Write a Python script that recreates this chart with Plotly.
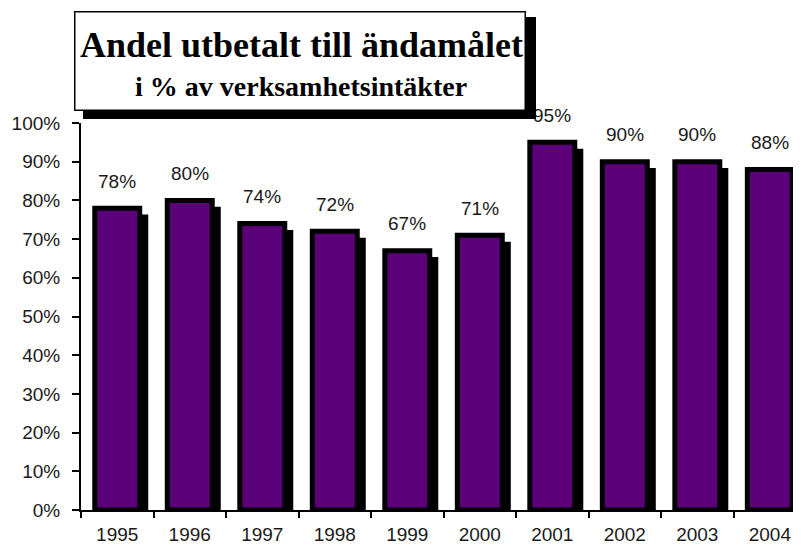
import plotly.graph_objects as go

years = ["1995", "1996", "1997", "1998", "1999", "2000", "2001", "2002", "2003", "2004"]
shares = [78, 80, 74, 72, 67, 71, 95, 90, 90, 88]
labels = [f"{v}%" for v in shares]

title_main = "Andel utbetalt till ändamålet"
title_sub = "i % av verksamhetsintäkter"

PURPLE = "#5C0079"
BAR_W = 0.62
SHADOW_DX = 0.083
SHADOW_DY = 2.3

fig = go.Figure()

# shadow bars
fig.add_trace(go.Bar(
    x=years, y=[v - SHADOW_DY for v in shares],
    width=BAR_W, offset=-BAR_W / 2 + SHADOW_DX,
    marker=dict(color="black", line=dict(color="black", width=5)),
    hoverinfo="skip", showlegend=False,
))
# front bars
fig.add_trace(go.Bar(
    x=years, y=shares,
    width=BAR_W, offset=-BAR_W / 2,
    marker=dict(color=PURPLE, line=dict(color="black", width=5)),
    showlegend=False,
))

# page has an 8px body margin: figure starts at (8, 8) in the window
OFF = 8
W, H = 801 - OFF, 548 - OFF
L, T, B = 81 - OFF, 123 - OFF, 38
pw, ph = W - L, H - T - B

def px_x(p):
    return (p - OFF - L) / pw

def px_y(p):
    return (H - B - (p - OFF)) / ph

LABEL_FONT = dict(family="Liberation Sans, Arial", size=19, color="#1a1a1a")

annotations = []
# value labels (drawn first so the title box covers them); x = category index
for i, (v, lab) in enumerate(zip(shares, labels)):
    annotations.append(dict(
        x=i, y=v, xref="x", yref="y", text=lab, showarrow=False,
        xanchor="center", yanchor="middle", yshift=27, font=LABEL_FONT,
    ))

# title box shadow
annotations.append(dict(
    text=" ", xref="paper", yref="paper", x=px_x(83), y=px_y(17),
    xanchor="left", yanchor="top", showarrow=False,
    width=453, height=102, bgcolor="black", borderpad=0, borderwidth=0,
))
# title box
annotations.append(dict(
    text=" ", xref="paper", yref="paper", x=px_x(74), y=px_y(11),
    xanchor="left", yanchor="top", showarrow=False,
    width=449, height=96.5, bgcolor="white", bordercolor="black",
    borderwidth=1.5, borderpad=0,
))
# title text
annotations.append(dict(
    text=f"<b>{title_main}</b>", xref="paper", yref="paper",
    x=px_x(301), y=px_y(45), xanchor="center", yanchor="middle",
    showarrow=False,
    font=dict(family="Liberation Serif, Times New Roman", size=36, color="black"),
))
annotations.append(dict(
    text=f"<b>{title_sub}</b>", xref="paper", yref="paper",
    x=px_x(301), y=px_y(86), xanchor="center", yanchor="middle",
    showarrow=False,
    font=dict(family="Liberation Serif, Times New Roman", size=28, color="black"),
))

fig.update_layout(
    width=W, height=H,
    margin=dict(l=L, r=0, t=T, b=B),
    paper_bgcolor="white", plot_bgcolor="white",
    barmode="overlay",
    annotations=annotations,
    font=dict(family="Liberation Sans, Arial", size=19, color="#1a1a1a"),
)
fig.update_xaxes(
    type="category", range=[-0.5, 9.43],
    showline=True, linecolor="black", linewidth=1.5,
    ticks="outside", tickson="boundaries", ticklen=6, tickcolor="black", tickwidth=1.5,
    showgrid=False, zeroline=False, ticklabelstandoff=6,
)
fig.update_yaxes(
    range=[0, 100], dtick=10, ticksuffix="%",
    showline=True, linecolor="black", linewidth=2,
    ticks="outside", ticklen=7, tickcolor="black", tickwidth=2,
    showgrid=False, zeroline=False, ticklabelstandoff=8,
)

fig.write_html("out.html")
